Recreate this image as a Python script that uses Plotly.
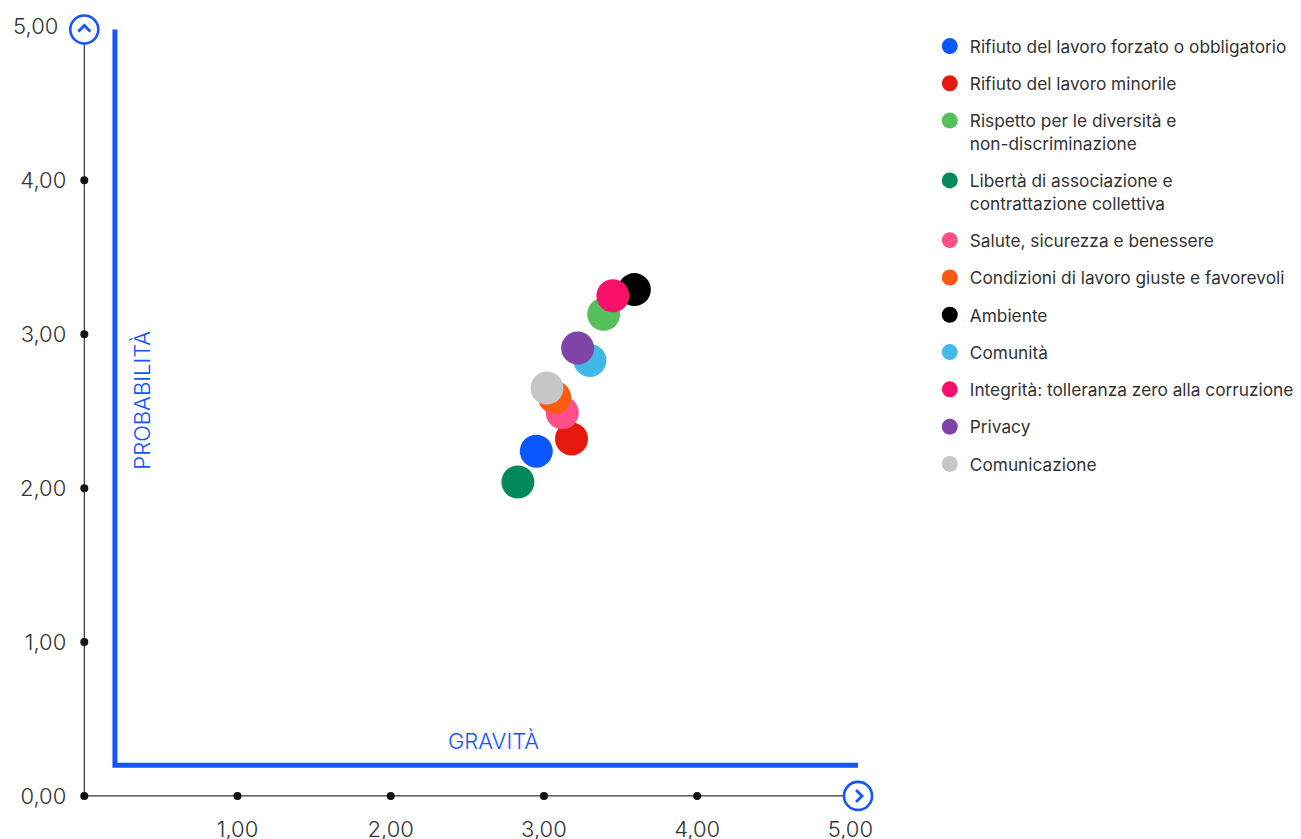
import plotly.graph_objects as go

# Temi materiali: valutazione di gravità (x) e probabilità (y)
TEMI = [
    "Rifiuto del lavoro forzato o obbligatorio",
    "Rifiuto del lavoro minorile",
    "Rispetto per le diversità e<br>non-discriminazione",
    "Libertà di associazione e<br>contrattazione collettiva",
    "Salute, sicurezza e benessere",
    "Condizioni di lavoro giuste e favorevoli",
    "Ambiente",
    "Comunità",
    "Integrità: tolleranza zero alla corruzione",
    "Privacy",
    "Comunicazione",
]
GRAVITA = [2.95, 3.18, 3.39, 2.83, 3.12, 3.07, 3.59, 3.30, 3.45, 3.22, 3.02]
PROBABILITA = [2.24, 2.32, 3.13, 2.04, 2.49, 2.59, 3.29, 2.83, 3.25, 2.91, 2.65]
COLORI = [
    "#0A56FF", "#E51A0C", "#57BF5C", "#00895A", "#FF4F8B", "#FF5A14",
    "#000000", "#40B9E6", "#F9106A", "#8043A8", "#C6C6C6",
]

TICK_X = [1, 2, 3, 4, 5]
TICK_X_TEXT = ["1,00", "2,00", "3,00", "4,00", "5,00"]
TICK_Y = [0, 1, 2, 3, 4, 5]
# the top label leaves room for the arrow icon
TICK_Y_TEXT = ["0,00", "1,00", "2,00", "3,00", "4,00", "5,00\u2009\u2009"]

BLU = "#1455FF"
FONT = "Inter"

X_RANGE = [-0.25, 5.2]
Y_RANGE = [-0.15, 5.12]

fig = go.Figure()

# tick dots along both axes
dot_x = [0, 1, 2, 3, 4, 0, 0, 0, 0]
dot_y = [0, 0, 0, 0, 0, 1, 2, 3, 4]
fig.add_trace(go.Scatter(
    x=dot_x, y=dot_y, mode="markers",
    marker=dict(size=8, color="#111111"),
    hoverinfo="skip", showlegend=False, cliponaxis=False,
))

for nome, gx, py, col in zip(TEMI, GRAVITA, PROBABILITA, COLORI):
    fig.add_trace(go.Scatter(
        x=[gx], y=[py], mode="markers", name=nome,
        legendgroup=nome,
        marker=dict(size=33, color=col, line=dict(width=0)),
        cliponaxis=False,
    ))

shapes = [
    # thin axes
    dict(type="line", x0=0, y0=0, x1=5.05, y1=0, xref="x", yref="y",
         line=dict(color="#333333", width=1.2), layer="below"),
    dict(type="line", x0=0, y0=0, x1=0, y1=5, xref="x", yref="y",
         line=dict(color="#333333", width=1.2), layer="below"),
    # thick blue frame
    dict(type="path", path="M 0.2,4.98 L 0.2,0.2 L 5.05,0.2", xref="x", yref="y",
         line=dict(color=BLU, width=5), layer="below"),
]

# arrow icons at the axis ends
for ax, ay, chev in [(0, 4.98, "M -6,-2 L 0,4 L 6,-2"), (5.05, 0, "M -2,6 L 4,0 L -2,-6")]:
    shapes.append(dict(
        type="circle", xref="x", yref="y", xsizemode="pixel", ysizemode="pixel",
        xanchor=ax, yanchor=ay, x0=-14, x1=14, y0=-14, y1=14,
        fillcolor="white", line=dict(color=BLU, width=2.6), layer="above",
    ))
    shapes.append(dict(
        type="path", xref="x", yref="y", xsizemode="pixel", ysizemode="pixel",
        xanchor=ax, yanchor=ay, path=chev,
        line=dict(color=BLU, width=2.8), layer="above",
    ))

title_font = dict(family=FONT, size=22, color=BLU, weight=300)
annotations = [
    dict(x=0.378, y=2.57, xref="x", yref="y", text="PROBABILITÀ", textangle=-90,
         showarrow=False, font=title_font),
    dict(x=2.668, y=0.36, xref="x", yref="y", text="GRAVITÀ",
         showarrow=False, font=title_font),
]

W, H = 1301, 839
ml, mr, mt, mb = 45.7, 419.8, 7.7, 20.2
plot_w = W - ml - mr
plot_h = H - mt - mb

tick_font = dict(family=FONT, size=22, color="#333333", weight=300)

fig.update_layout(
    width=W, height=H,
    margin=dict(l=ml, r=mr, t=mt, b=mb, autoexpand=False),
    paper_bgcolor="white", plot_bgcolor="white",
    font=dict(family=FONT, color="#333333"),
    shapes=shapes, annotations=annotations,
    xaxis=dict(
        range=X_RANGE, showgrid=False, zeroline=False, showline=False,
        tickvals=TICK_X, ticktext=TICK_X_TEXT, ticks="",
        tickfont=tick_font,
        anchor="free", position=(0 - Y_RANGE[0]) / (Y_RANGE[1] - Y_RANGE[0]),
        ticklabelstandoff=18,
    ),
    yaxis=dict(
        range=Y_RANGE, showgrid=False, zeroline=False, showline=False,
        tickvals=TICK_Y, ticktext=TICK_Y_TEXT, ticks="",
        tickfont=tick_font,
        anchor="free", position=(0 - X_RANGE[0]) / (X_RANGE[1] - X_RANGE[0]),
        ticklabelstandoff=18,
    ),
    legend=dict(
        x=(930 - ml) / plot_w, xanchor="left",
        y=(H - mb - 28) / plot_h, yanchor="top",
        font=dict(family=FONT, size=17.3, color="#333333"),
        tracegroupgap=11.8, valign="top", itemsizing="trace",
        bgcolor="rgba(0,0,0,0)",
    ),
    hovermode="closest",
)

fig.write_html("out.html")
